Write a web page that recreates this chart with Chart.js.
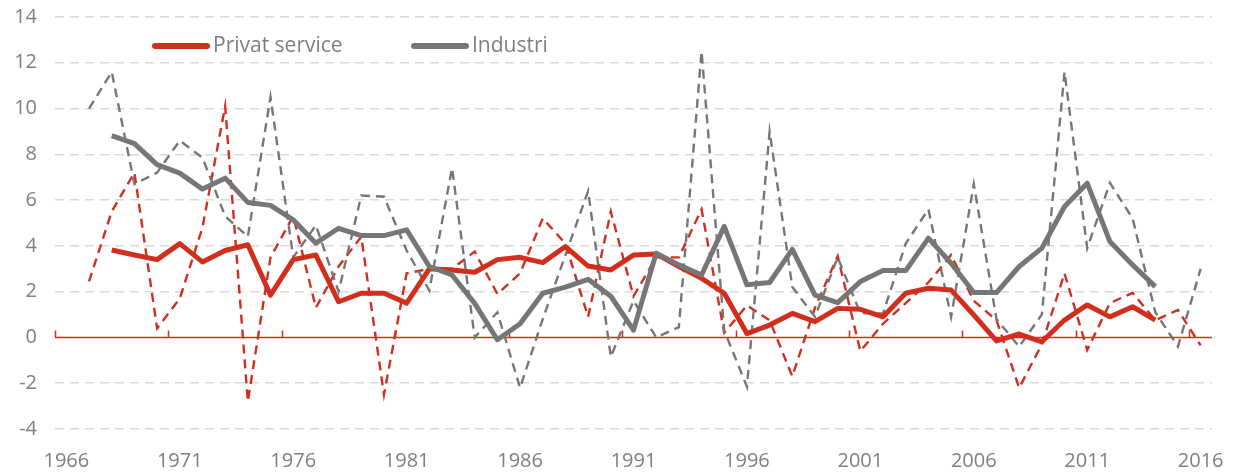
<!DOCTYPE html>
<html>
<head>
<meta charset="utf-8">
<script src="https://cdn.jsdelivr.net/npm/chart.js@4/dist/chart.umd.min.js"></script>
<style>
  html, body { margin: 0; padding: 0; background: #ffffff; }
  #wrap { width: 1234px; height: 473px; }
</style>
</head>
<body>
<div id="wrap"><canvas id="c" width="1234" height="473"></canvas></div>
<script>
// ---- Data ----
const years = [];
for (let yr = 1966; yr <= 2016; yr++) years.push(String(yr));

const seriesNames = ['Privat service', 'Industri'];

// Privat service, annual (dashed)
const privatAnnual = [
  null, 2.45, 5.5, 7.2, 0.4, 1.7, 4.8, 10.1, -2.8, 3.5,
  5.3, 1.3, 3.1, 4.4, -2.5, 2.8, 3.0, 3.0, 3.75, 1.9,
  2.8, 5.2, 4.1, 0.9, 5.5, 1.8, 3.5, 3.5, 5.6, 0.2,
  1.4, 0.75, -1.7, 1.3, 3.55, -0.6, 0.6, 1.5, 2.4, 3.6,
  1.6, 0.75, -2.2, -0.3, 2.8, -0.55, 1.5, 1.95, 0.75, 1.2,
  -0.35
];
// Privat service, smoothed (solid)
const privatTrend = [
  null, null, 3.82, 3.6, 3.4, 4.1, 3.3, 3.8, 4.05, 1.85,
  3.4, 3.6, 1.56, 1.93, 1.93, 1.5, 3.0, 2.95, 2.85, 3.4,
  3.5, 3.27, 3.97, 3.12, 2.95, 3.6, 3.65, 3.1, 2.58, 1.93,
  0.17, 0.54, 1.05, 0.69, 1.27, 1.23, 0.9, 1.93, 2.15, 2.07,
  0.98, -0.15, 0.15, -0.19, 0.76, 1.42, 0.9, 1.34, 0.76, null,
  null
];
// Industri, annual (dashed)
const industriAnnual = [
  null, 10.0, 11.6, 6.7, 7.2, 8.6, 7.85, 5.3, 4.4, 10.5,
  3.5, 4.9, 2.0, 6.2, 6.15, 3.8, 2.05, 7.4, 0.0, 1.1,
  -2.2, 0.8, 3.6, 6.4, -0.85, 1.6, 0.0, 0.45, 12.5, 0.3,
  -2.15, 9.0, 2.2, 0.9, 3.5, 1.05, 1.05, 4.1, 5.6, 0.9,
  6.7, 0.8, -0.4, 1.0, 11.6, 3.9, 6.75, 5.2, 1.1, -0.4,
  3.0
];
// Industri, smoothed (solid)
const industriTrend = [
  null, null, 8.82, 8.47, 7.55, 7.18, 6.48, 6.96, 5.9, 5.77,
  5.14, 4.12, 4.77, 4.45, 4.45, 4.7, 3.1, 2.73, 1.49, -0.1,
  0.6, 1.93, 2.2, 2.54, 1.8, 0.32, 3.68, 3.17, 2.73, 4.85,
  2.3, 2.4, 3.85, 1.85, 1.52, 2.44, 2.92, 2.92, 4.34, 3.24,
  1.96, 1.96, 3.1, 3.9, 5.72, 6.74, 4.19, 3.17, 2.22, null,
  null
];

const yMin = -4, yMax = 14, yStep = 2;

// ---- Styles ----
const RED = '#d22e1e';
const GRAY = '#767676';
const TEXT = '#7f7f7f';
const FONT = "'Open Sans', 'Liberation Sans', sans-serif";

Chart.defaults.font.family = FONT;
Chart.defaults.color = TEXT;

const zeroLinePlugin = {
  id: 'zeroLine',
  beforeDatasetsDraw(chart) {
    const { ctx, chartArea, scales: { x, y } } = chart;
    const y0 = y.getPixelForValue(0);
    const half = (x.getPixelForValue(1) - x.getPixelForValue(0)) / 2;
    ctx.save();
    ctx.strokeStyle = RED;
    ctx.lineWidth = 1.5;
    ctx.beginPath();
    ctx.moveTo(chartArea.left, y0);
    ctx.lineTo(chartArea.right, y0);
    for (let i = 0; i < years.length; i += 5) {
      const px = Math.round(x.getPixelForValue(i) - half) + 0.5;
      ctx.moveTo(px, y0);
      ctx.lineTo(px, y0 - 7);
    }
    ctx.stroke();
    ctx.restore();
  }
};

const legendPlugin = {
  id: 'customLegend',
  afterDraw(chart) {
    const { ctx } = chart;
    const items = [
      { text: seriesNames[0], color: RED, x: 153 },
      { text: seriesNames[1], color: GRAY, x: 412 }
    ];
    const ly = 46;
    ctx.save();
    ctx.font = '21px ' + FONT;
    ctx.textBaseline = 'middle';
    ctx.textAlign = 'left';
    items.forEach(it => {
      ctx.strokeStyle = it.color;
      ctx.lineWidth = 6;
      ctx.lineCap = 'round';
      ctx.beginPath();
      ctx.moveTo(it.x + 2, ly);
      ctx.lineTo(it.x + 54, ly);
      ctx.stroke();
      ctx.fillStyle = TEXT;
      ctx.fillText(it.text, it.x + 60, ly);
    });
    ctx.restore();
  }
};

new Chart(document.getElementById('c'), {
  type: 'line',
  data: {
    labels: years,
    datasets: [
      { label: seriesNames[0], data: privatTrend, borderColor: RED, borderWidth: 5,
        pointRadius: 0, tension: 0, borderJoinStyle: 'round', order: 1 },
      { label: seriesNames[1], data: industriTrend, borderColor: GRAY, borderWidth: 5,
        pointRadius: 0, tension: 0, borderJoinStyle: 'round', order: 0 },
      { label: seriesNames[0] + ' (år)', data: privatAnnual, borderColor: RED, borderWidth: 2.4,
        borderDash: [9, 6], pointRadius: 0, tension: 0, order: 3 },
      { label: seriesNames[1] + ' (år)', data: industriAnnual, borderColor: GRAY, borderWidth: 2.4,
        borderDash: [9, 6], pointRadius: 0, tension: 0, order: 2 }
    ]
  },
  options: {
    responsive: false,
    animation: false,
    devicePixelRatio: 1,
    layout: { padding: { top: 17, right: 22, left: 0, bottom: 0 } },
    plugins: { legend: { display: false }, tooltip: { enabled: false } },
    scales: {
      x: {
        type: 'category',
        offset: true,
        grid: { display: false, drawTicks: false },
        border: { display: false },
        ticks: {
          autoSkip: false, maxRotation: 0, padding: 20,
          font: { size: 20 }, color: TEXT,
          callback: function (v, i) { return i % 5 === 0 ? years[i] : null; }
        },
        afterFit(scale) { scale.height = 44; scale.paddingLeft = 0; scale.paddingRight = 0; }
      },
      y: {
        min: yMin, max: yMax,
        grid: {
          drawTicks: false, lineWidth: 1.5,
          color: ctx => (ctx.tick && ctx.tick.value === 0) ? 'rgba(0,0,0,0)' : '#d9d9d9'
        },
        border: { display: false, dash: [9, 6] },
        ticks: { stepSize: yStep, padding: 18, font: { size: 20 }, color: TEXT },
        afterFit(scale) { scale.width = 55; scale.paddingTop = 0; scale.paddingBottom = 0; }
      }
    }
  },
  plugins: [zeroLinePlugin, legendPlugin]
});
</script>
</body>
</html>
